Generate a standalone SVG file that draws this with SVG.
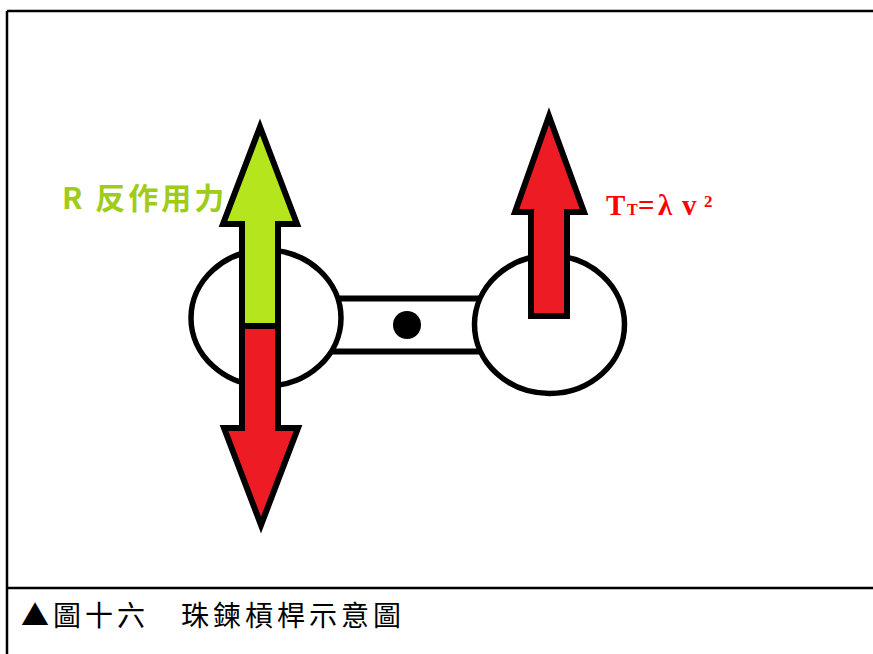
<svg xmlns="http://www.w3.org/2000/svg" width="873" height="654" viewBox="0 0 873 654">
<style>
.ln{stroke:#000;stroke-width:2.5;fill:none}
.ring{fill:#fff;stroke:#000;stroke-width:5.5}
.arr{stroke:#000;stroke-width:6;stroke-linejoin:miter;stroke-miterlimit:12}
.green{fill:#B5E61D}
.red{fill:#ED1C24}
.cap{font-family:"Noto Sans CJK TC","Noto Sans CJK SC",sans-serif;font-size:28px;fill:#000;letter-spacing:4px}
.lblR{font-family:"Noto Sans CJK TC","Noto Sans CJK SC",sans-serif;font-size:30px;font-weight:bold;fill:#9FCC1A;letter-spacing:3px}
.lblT{font-family:"Liberation Serif",serif;font-weight:bold;fill:#FF0000}
</style>
<rect width="873" height="654" fill="#fff"/>
<g id="frame">
<line class="ln" x1="7" y1="11" x2="873" y2="11"/>
<line class="ln" x1="7" y1="11" x2="7" y2="654"/>
<line class="ln" x1="7" y1="588" x2="873" y2="588"/>
</g>
<g id="rod">
<rect x="330" y="298.5" width="155" height="53" fill="#fff" stroke="#000" stroke-width="6"/>
<circle cx="407" cy="325" r="14" fill="#000"/>
</g>
<g id="left-bead">
<ellipse class="ring" cx="266" cy="318" rx="75" ry="68"/>
</g>
<g id="right-bead">
<ellipse class="ring" cx="549.5" cy="324.5" rx="75" ry="69"/>
</g>
<g id="connectors">
<polygon id="arrow-R" class="arr green" points="242,326 242,224 223,224 260,127 297,224 278,224 278,326"/>
<polygon id="arrow-down" class="arr red" points="242,326 278,326 278,428 298,428 261,525 224,428 242,428"/>
<polygon id="arrow-T" class="arr red" points="531,316 531,212 515,212 549,116 584,212 567,212 567,316"/>
</g>
<g id="label-R">
<text class="lblR" x="62" y="209">R 反作用力</text>
</g>
<g id="label-T">
<text class="lblT" y="215" font-size="29"><tspan x="606">T</tspan><tspan x="627" font-size="16">T</tspan><tspan x="638" font-size="29">=</tspan><tspan x="658">λ</tspan><tspan x="682">v</tspan><tspan x="704" y="207" font-size="17">2</tspan></text>
</g>
<g id="caption">
<text class="cap" x="21" y="626">▲圖十六　珠鍊槓桿示意圖</text>
</g>
</svg>
